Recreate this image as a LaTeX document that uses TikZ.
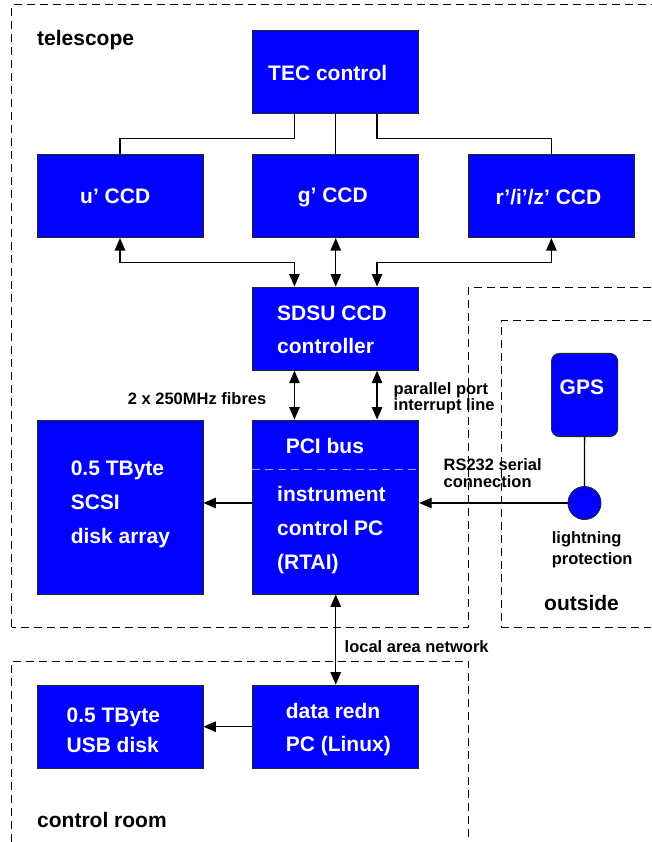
\documentclass[tikz,border=0pt]{standalone}
\usepackage{fontspec}
\setmainfont{Liberation Sans}
\usetikzlibrary{arrows.meta}
\definecolor{boxblue}{RGB}{0,0,255}
\definecolor{pciline}{RGB}{160,160,255}
\begin{document}
\begin{tikzpicture}[x=1pt,y=-1pt,
  box/.style={draw=black!85, line width=0.9pt, fill=boxblue, inner sep=0pt, minimum width=166pt, minimum height=83.3pt},
  boxtxt/.style={text=white, font=\bfseries\fontsize{21}{33.5}\selectfont, anchor=west, align=left, inner sep=0pt},
  lbl/.style={font=\bfseries\fontsize{16.5}{16.5}\selectfont, anchor=west, align=left, inner sep=0pt},
  region/.style={font=\bfseries\fontsize{21}{25}\selectfont, anchor=west, inner sep=0pt},
  conn/.style={line width=1.3pt, draw=black},
  arr/.style={conn, -{Triangle[length=12.5pt,width=10.5pt]}},
  darr/.style={conn, {Triangle[length=12.5pt,width=10.5pt]}-{Triangle[length=12.5pt,width=10.5pt]}},
  zone/.style={draw=black, line width=1pt, dash pattern=on 8pt off 5pt}
]
\useasboundingbox (0,0) rectangle (651,842);

% regions
\draw[zone] (11.6,627) -- (11.6,5) -- (651,5);
\draw[zone] (651,287.3) -- (468.3,287.3) -- (468.3,627) -- (11.6,627);
\draw[zone] (651,320.7) -- (501.7,320.7) -- (501.7,627) -- (651,627);
\draw[zone] (11.6,842) -- (11.6,661) -- (468.3,661) -- (468.3,842);

% boxes
\node[box] (tec) at (335.75,71.7) {};
\node[box] (u) at (120,196) {};
\node[box] (g) at (335.75,196) {};
\node[box] (r) at (551.4,196) {};
\node[box] (sdsu) at (335.75,328.6) {};
\node[box, minimum height=174pt] (pci) at (335.75,507) {};
\node[box, minimum height=174pt] (scsi) at (120,507) {};
\node[box] (dr) at (335.75,726.7) {};
\node[box] (usb) at (120,726.7) {};
\node[box, minimum width=66.3pt, minimum height=83.2pt, rounded corners=8pt] (gps) at (584.6,395) {};
\node[draw=black!85, line width=0.9pt, fill=boxblue, circle, minimum size=33pt, inner sep=0pt] (lp) at (584.5,503) {};

% dashed line inside PCI box
\draw[pciline, line width=1pt, dash pattern=on 8pt off 5pt] ([yshift=-50pt]pci.north west) -- ([yshift=-50pt]pci.north east);

% box texts
\node[boxtxt] (ttec) at (268,72.7) {TEC control};
\node[boxtxt] (tu) at (80,196.5) {u’ CCD};
\node[boxtxt] (tg) at (297.6,197.5) {g’ CCD};
\node[boxtxt] (tr) at (495.3,197.5) {r’/i’/z’ CCD};
\node[boxtxt] (tsdsu) at (277,330) {SDSU CCD\\controller};
\node[boxtxt] (tpci) at (285.6,445.7) {PCI bus};
\node[boxtxt, font=\bfseries\fontsize{21}{33.6}\selectfont] (tinst) at (277,530) {instrument\\control PC\\(RTAI)};
\node[boxtxt, font=\bfseries\fontsize{21}{33.8}\selectfont] (tscsi) at (70.6,504.5) {0.5 TByte\\SCSI\\disk array};
\node[boxtxt, font=\bfseries\fontsize{21}{32.6}\selectfont] (tdr) at (285.6,729.5) {data redn\\PC (Linux)};
\node[boxtxt, font=\bfseries\fontsize{21}{30}\selectfont] (tusb) at (66.4,730.5) {0.5 TByte\\USB disk};
\node[boxtxt] (tgps) at (559.5,387) {GPS};

% region labels
\node[region] (ltel) at (37,40) {telescope};
\node[region] (lout) at (544,603.3) {outside};
\node[region] (lcr) at (37,820) {control room};

% connector labels
\node[lbl, anchor=east] (lfib) at (266.5,398.3) {2 x 250MHz fibres};
\node[lbl] (lpar) at (393.5,398) {parallel port\\interrupt line};
\node[lbl, font=\bfseries\fontsize{16.5}{17.4}\selectfont] (lrs) at (443.4,473) {RS232 serial\\connection};
\node[lbl, font=\bfseries\fontsize{16.5}{20.7}\selectfont] (llp) at (551.7,549.7) {lightning\\protection};
\node[lbl] (llan) at (344.5,646.7) {local area network};

% TEC to CCDs
\draw[conn] ([xshift=-41.3pt]tec.south) -- ++(0,24.4) -| (u.north);
\draw[conn] (tec.south) -- (g.north);
\draw[conn] ([xshift=41.3pt]tec.south) -- ++(0,24.4) -| (r.north);

% CCDs to SDSU
\draw[darr] (u.south) -- ++(0,24.6) -| ([xshift=-41.3pt]sdsu.north);
\draw[darr] (g.south) -- (sdsu.north);
\draw[darr] (r.south) -- ++(0,24.6) -| ([xshift=41.3pt]sdsu.north);

% SDSU to PCI
\draw[darr] ([xshift=-41.3pt]sdsu.south) -- ([xshift=-41.3pt]pci.north);
\draw[darr] ([xshift=41.3pt]sdsu.south) -- ([xshift=41.3pt]pci.north);

% PCI to SCSI
\draw[arr] ([yshift=4pt]pci.west) -- ([yshift=4pt]scsi.east);

% GPS / lightning
\draw[conn] (gps.south) -- (lp.north);
\draw[arr] (lp.west) -- (lp.west -| pci.east);

% PCI to data reduction
\draw[darr] (pci.south) -- (dr.north);
\draw[arr] (dr.west) -- (usb.east);
\end{tikzpicture}
\end{document}
